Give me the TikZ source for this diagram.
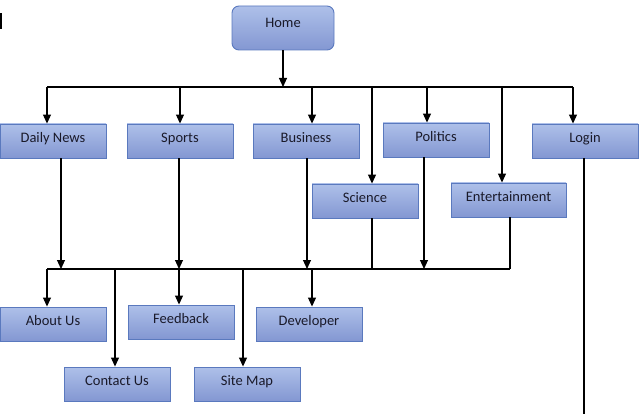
\documentclass[tikz,border=0pt]{standalone}
\usepackage{fontspec}
\setmainfont{Carlito}
\usetikzlibrary{arrows.meta}
\definecolor{boxtop}{HTML}{AEC0E9}
\definecolor{boxbot}{HTML}{8397D2}
\definecolor{boxline}{HTML}{5A79BE}
\definecolor{txt}{HTML}{1A1A2A}
\begin{document}
\begin{tikzpicture}[x=1pt,y=-1pt,
  box/.style={draw=boxline, line width=0.9pt, top color=boxtop, bottom color=boxbot,
    minimum width=106pt, minimum height=34pt, inner sep=0pt, text=txt,
    font=\fontsize{14.5}{16}\selectfont, text height=10pt, text depth=7.5pt},
  homebox/.style={box, rounded corners=7pt, minimum width=102pt, minimum height=44pt, text depth=11pt},
  wire/.style={line width=1.1pt, black},
  arr/.style={wire, -{Triangle[width=8pt,length=9pt]}}]
\useasboundingbox (0,0) rectangle (642,414);
\fill[black] (0,13) rectangle (2,29);
% nodes
\node[homebox] (home) at (283,28) {Home};
\node[box] (dn) at (53,141) {Daily News};
\node[box] (sp) at (180,141) {Sports};
\node[box] (bu) at (306,141) {Business};
\node[box] (po) at (436,140) {Politics};
\node[box] (lo) at (585,141) {Login};
\node[box] (sc) at (365,201) {Science};
\node[box, minimum width=115pt] (en) at (508.5,200) {Entertainment};
\node[box] (ab) at (53,324) {About Us};
\node[box] (fe) at (181,322) {Feedback};
\node[box] (de) at (309,324) {Developer};
\node[box] (co) at (117,384) {Contact Us};
\node[box] (si) at (247,384) {Site Map};
% top bus
\coordinate (tL) at (47,87);
\coordinate (tR) at (573,87);
\coordinate (tsc) at (372,87);
\coordinate (ten) at (502,87);
\coordinate (tbu) at (312,87);
\coordinate (tpo) at (427,87);
\draw[arr] (home.south) -- (home.south |- tL);
\draw[wire] (tL) -- (tR);
\draw[arr] (tL) -- (tL |- dn.north);
\draw[arr] (sp.north |- tL) -- (sp.north);
\draw[arr] (tbu) -- (tbu |- bu.north);
\draw[arr] (tsc) -- (tsc |- sc.north);
\draw[arr] (tpo) -- (tpo |- po.north);
\draw[arr] (ten) -- (ten |- en.north);
\draw[arr] (tR) -- (tR |- lo.north);
% bottom bus
\coordinate (bL) at (47,269);
\coordinate (bdn) at (61,269);
\coordinate (bsp) at (179,269);
\coordinate (bbu) at (307,269);
\coordinate (bsc) at (372,269);
\coordinate (bpo) at (424,269);
\coordinate (ben) at (510,269);
\coordinate (bco) at (115,269);
\coordinate (bsi) at (243,269);
\coordinate (bde) at (312,269);
\draw[wire] (bL) -- (ben);
\draw[arr] (bdn |- dn.south) -- (bdn);
\draw[arr] (bsp |- sp.south) -- (bsp);
\draw[arr] (bbu |- bu.south) -- (bbu);
\draw[arr] (bpo |- po.south) -- (bpo);
\draw[wire] (bsc |- sc.south) -- (bsc);
\draw[wire] (ben |- en.south) -- (ben);
\draw[arr] (bL) -- (bL |- ab.north);
\draw[arr] (bco) -- (bco |- co.north);
\draw[arr] (bsp) -- (bsp |- fe.north);
\draw[arr] (bsi) -- (bsi |- si.north);
\draw[arr] (bde) -- (bde |- de.north);
% login line
\coordinate (lend) at (584,414);
\draw[wire] (lend |- lo.south) -- (lend);
\end{tikzpicture}
\end{document}
